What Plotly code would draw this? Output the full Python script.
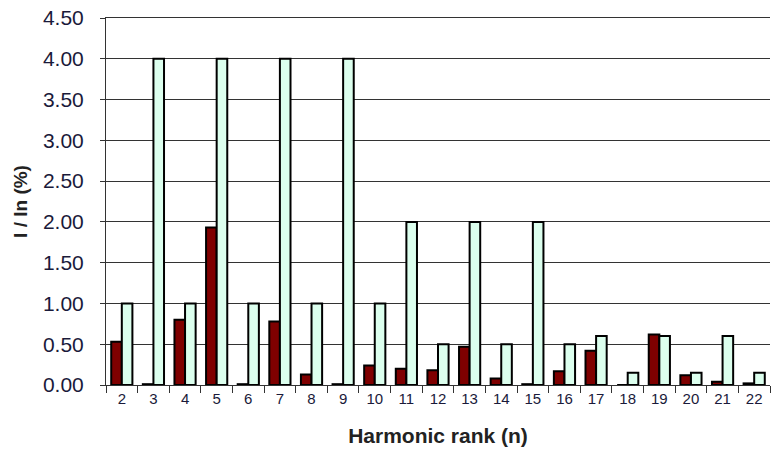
import plotly.graph_objects as go

ranks = [str(n) for n in range(2, 23)]
measured = [0.53, 0.01, 0.80, 1.93, 0.01, 0.78, 0.13, 0.01, 0.24, 0.20, 0.18,
            0.47, 0.08, 0.01, 0.17, 0.42, 0.0, 0.62, 0.12, 0.04, 0.02]
limits = [1.0, 4.0, 1.0, 4.0, 1.0, 4.0, 1.0, 4.0, 1.0, 2.0, 0.5,
          2.0, 0.5, 2.0, 0.5, 0.6, 0.15, 0.6, 0.15, 0.6, 0.15]
y_ticks = [0, 0.5, 1, 1.5, 2, 2.5, 3, 3.5, 4, 4.5]

fig = go.Figure()
fig.add_trace(go.Bar(x=ranks, y=measured, marker=dict(color="#7F0000", line=dict(color="black", width=2))))
fig.add_trace(go.Bar(x=ranks, y=limits, marker=dict(color="#DCFFEE", line=dict(color="black", width=2))))

fig.update_layout(
    width=771, height=451,
    margin=dict(l=106, r=1, t=18, b=66, autoexpand=False),
    paper_bgcolor="white", plot_bgcolor="white",
    barmode="group", bargap=0.33, bargroupgap=0,
    showlegend=False,
    font=dict(family="Liberation Sans, Arial, sans-serif", color="#1a1a3a"),
)
fig.update_xaxes(
    type="category", tickson="boundaries", ticks="outside", ticklen=7,
    tickcolor="#333", showline=True, linecolor="#333", linewidth=1, mirror=True,
    tickfont=dict(size=15), showgrid=False,
    title=dict(text="<b>Harmonic rank (n)</b>", font=dict(size=21, color="#222"), standoff=22),
)
fig.update_yaxes(
    range=[0, 4.5], tickvals=y_ticks, tickformat=".2f", ticks="outside", ticklen=5,
    tickcolor="#333", showline=True, linecolor="#333", linewidth=1,
    showgrid=True, gridcolor="#333", gridwidth=1, zeroline=False,
    tickfont=dict(size=21), ticklabelstandoff=12, ticklabeloverflow="allow",
    title=dict(text="<b>I / In (%)</b>", font=dict(size=19, color="#222"), standoff=10),
)
fig.write_html("out.html", config={"displayModeBar": False},
               post_script="document.body.style.margin='0';")
